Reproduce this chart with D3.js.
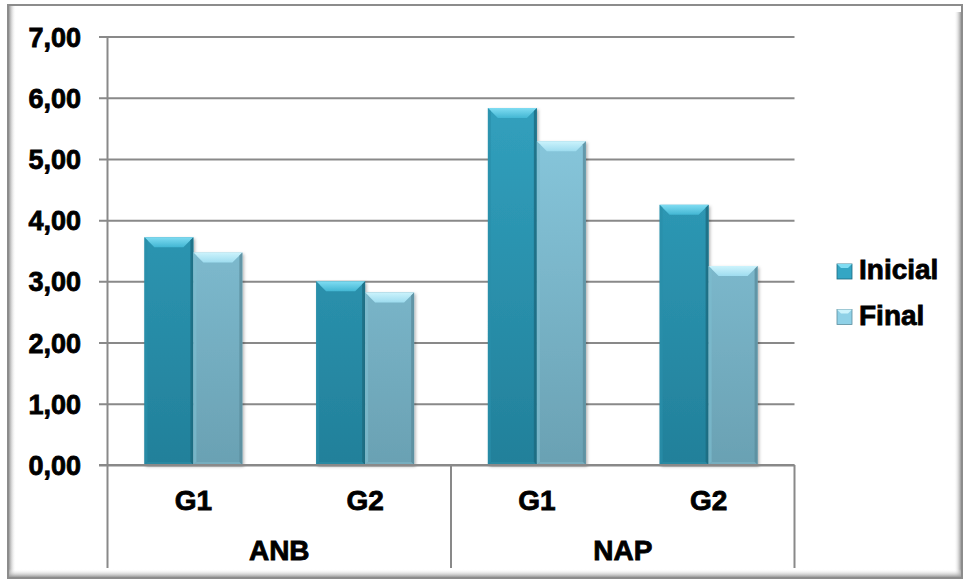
<!DOCTYPE html>
<html>
<head>
<meta charset="utf-8">
<script src="https://cdn.jsdelivr.net/npm/d3@7"></script>
<style>
  html, body { margin: 0; padding: 0; background: #fff; }
  svg { display: block; }
  text { font-family: "Liberation Sans", Arial, sans-serif; font-weight: bold; fill: #000; stroke: #000; stroke-width: 0.8px; }
</style>
</head>
<body>
<svg id="chart" width="963" height="581"></svg>
<script>
// Data
const groups = ["ANB", "NAP"];
const subgroups = ["G1", "G2"];
const seriesNames = ["Inicial", "Final"];
const inicial = [3.72, 3.00, 5.83, 4.25];
const final = [3.47, 2.82, 5.29, 3.25];
const yTicks = [0, 1, 2, 3, 4, 5, 6, 7];

const categories = [];
groups.forEach(g => subgroups.forEach(s => categories.push(g + "|" + s)));
const rows = categories.map((c, i) => ({ cat: c, values: [inicial[i], final[i]] }));

const plot = { left: 107.5, right: 794.5, top: 36.5, bottom: 465, axisBottom: 568 };

const svg = d3.select("#chart");
const defs = svg.append("defs");

// Chart frame with soft bevelled inner edges
const frameG = svg.append("g");
function edgeGrad(id, x1, y1, x2, y2) {
  const g = defs.append("linearGradient").attr("id", id)
    .attr("x1", x1).attr("y1", y1).attr("x2", x2).attr("y2", y2);
  g.append("stop").attr("offset", "0%").attr("stop-color", "#9a9a9a");
  g.append("stop").attr("offset", "100%").attr("stop-color", "#ffffff").attr("stop-opacity", 0);
}
edgeGrad("edgeL", "0", "0", "1", "0");
edgeGrad("edgeR", "1", "0", "0", "0");
edgeGrad("edgeB", "0", "1", "0", "0");
frameG.append("rect").attr("x", 8).attr("y", 5).attr("width", 954).attr("height", 573)
  .attr("fill", "#fff").attr("stroke", "#8c8c8c").attr("stroke-width", 2);
frameG.append("rect").attr("x", 9).attr("y", 6).attr("width", 7).attr("height", 571).attr("fill", "url(#edgeL)");
frameG.append("rect").attr("x", 954).attr("y", 12).attr("width", 7).attr("height", 565).attr("fill", "url(#edgeR)");
frameG.append("rect").attr("x", 9).attr("y", 569).attr("width", 952).attr("height", 8).attr("fill", "url(#edgeB)");

// Scales
const y = d3.scaleLinear().domain([0, 7]).range([plot.bottom, plot.top]);
const x0 = d3.scaleBand().domain(categories).range([plot.left, plot.right]);
const x1 = d3.scaleBand().domain(seriesNames).range([0, x0.bandwidth()]).paddingOuter(0.753);
const xg = d3.scaleBand().domain(groups).range([plot.left, plot.right]);

const gridColor = "#898989";

// Gridlines (with the outer tick stubs)
const gridAxis = d3.axisLeft(y).tickValues(yTicks).tickSize(-(plot.right - 99)).tickFormat("");
svg.append("g").attr("transform", "translate(99,0)").call(gridAxis)
  .call(g => g.select(".domain").remove())
  .call(g => g.selectAll("line").attr("stroke", gridColor).attr("stroke-width", 2));

// Value axis labels
const yAxis = d3.axisLeft(y).tickValues(yTicks).tickSize(0).tickPadding(26.5)
  .tickFormat(d => d3.format(".2f")(d).replace(".", ","));
svg.append("g").attr("transform", `translate(${plot.left},0)`).call(yAxis)
  .call(g => g.select(".domain").remove())
  .call(g => g.selectAll("text")
    .attr("dy", null).attr("y", 9.5)
    .style("font-size", "27px").style("font-family", "'Liberation Sans', Arial, sans-serif")
    .style("font-weight", "bold").attr("fill", "#000"));

// Vertical axis line and multi-level category dividers
const lines = svg.append("g").attr("stroke", gridColor).attr("stroke-width", 2);
lines.append("line").attr("x1", plot.left).attr("x2", plot.left).attr("y1", plot.top).attr("y2", plot.axisBottom);
groups.forEach(gname => {
  const xe = xg(gname) + xg.bandwidth();
  lines.append("line").attr("x1", xe).attr("x2", xe).attr("y1", plot.bottom).attr("y2", plot.axisBottom);
});

// Bar gradients
const palettes = {
  Inicial: { top: "#34a6c4", bottom: "#22809a", bevelTop: "#7fdcf2", bevelBot: "#42b6d3", edgeR: "#1d6a80", edgeL: "#2a8ea9", base: "#2a8aa3" },
  Final:   { top: "#8fd1e7", bottom: "#6aa1b3", bevelTop: "#ccf3fc", bevelBot: "#9edcef", edgeR: "#5b8d9d", edgeL: "#7cbccf", base: "#78aebf" }
};
seriesNames.forEach(s => {
  const p = palettes[s];
  const g = defs.append("linearGradient").attr("id", "face-" + s)
    .attr("gradientUnits", "userSpaceOnUse").attr("x1", 0).attr("y1", plot.top).attr("x2", 0).attr("y2", plot.bottom);
  g.append("stop").attr("offset", "0%").attr("stop-color", p.top);
  g.append("stop").attr("offset", "100%").attr("stop-color", p.bottom);
  const b = defs.append("linearGradient").attr("id", "bevel-" + s).attr("x1", 0).attr("y1", 0).attr("x2", 0).attr("y2", 1);
  b.append("stop").attr("offset", "0%").attr("stop-color", p.bevelTop);
  b.append("stop").attr("offset", "100%").attr("stop-color", p.bevelBot);
});
const shadow = defs.append("filter").attr("id", "barShadow").attr("x", "-10%").attr("y", "-10%").attr("width", "130%").attr("height", "120%");
shadow.append("feDropShadow").attr("dx", 1.5).attr("dy", 1.5).attr("stdDeviation", 1.5).attr("flood-color", "#000").attr("flood-opacity", 0.3);

// Bars
const barLayer = svg.append("g");
const pts = a => a.map(d => d.join(",")).join(" ");
rows.forEach(r => {
  seriesNames.forEach((s, si) => {
    const v = r.values[si];
    const bx = x0(r.cat) + x1(s);
    const bw = x1.bandwidth();
    const by = y(v);
    const bh = y(0) - y(v);
    const p = palettes[s];
    const bevel = 10, side = 3;
    const g = barLayer.append("g");
    g.append("rect").attr("x", bx).attr("y", by).attr("width", bw).attr("height", bh)
      .attr("fill", "url(#face-" + s + ")").attr("filter", "url(#barShadow)");
    // top bevel
    g.append("polygon").attr("points", pts([
      [bx, by], [bx + bw, by], [bx + bw - bevel, by + bevel], [bx + bevel, by + bevel]
    ])).attr("fill", "url(#bevel-" + s + ")");
    // left edge
    g.append("polygon").attr("points", pts([
      [bx, by], [bx + side, by + side], [bx + side, by + bh - side], [bx, by + bh]
    ])).attr("fill", p.edgeL).attr("opacity", 0.7);
    // right edge shade
    g.append("polygon").attr("points", pts([
      [bx + bw, by], [bx + bw, by + bh], [bx + bw - side, by + bh - side], [bx + bw - side, by + side]
    ])).attr("fill", p.edgeR).attr("opacity", 0.8);
    // bottom bevel
    g.append("polygon").attr("points", pts([
      [bx, by + bh], [bx + bw, by + bh], [bx + bw - side, by + bh - side], [bx + side, by + bh - side]
    ])).attr("fill", p.base).attr("opacity", 0.9);
  });
});

// Baseline drawn over bars
svg.append("line").attr("x1", 99).attr("x2", plot.right).attr("y1", y(0)).attr("y2", y(0))
  .attr("stroke", gridColor).attr("stroke-width", 2);

// Category labels
const labels = svg.append("g").attr("text-anchor", "middle");
categories.forEach(c => {
  labels.append("text").attr("x", x0(c) + x0.bandwidth() / 2).attr("y", 509.5)
    .style("font-size", "28px").text(c.split("|")[1]);
});
groups.forEach(gname => {
  labels.append("text").attr("x", xg(gname) + xg.bandwidth() / 2).attr("y", 560)
    .style("font-size", "28px").text(gname);
});

// Legend
const legend = svg.append("g");
seriesNames.forEach((s, i) => {
  const ly = 264 + i * 45.5;
  const p = palettes[s];
  legend.append("rect").attr("x", 837).attr("y", ly).attr("width", 15).attr("height", 15)
    .attr("fill", p.top).attr("stroke", p.edgeR).attr("stroke-width", 0.8);
  legend.append("polygon").attr("points", pts([
    [837, ly], [852, ly], [848, ly + 4], [841, ly + 4]
  ])).attr("fill", p.bevelTop);
  legend.append("text").attr("x", 859).attr("y", ly + 15.3)
    .style("font-size", "28px").text(s);
});
</script>
</body>
</html>
